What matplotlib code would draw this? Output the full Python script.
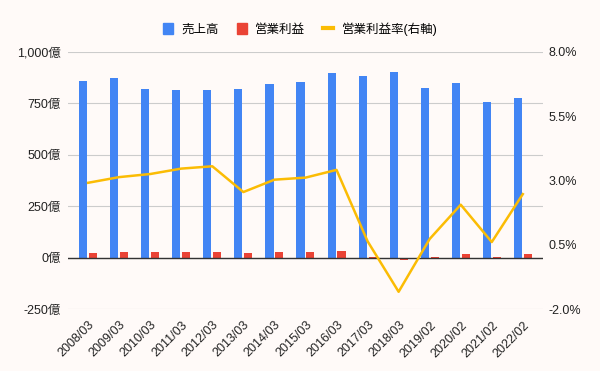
import matplotlib.pyplot as plt
import numpy as np
from matplotlib.patches import Patch
from matplotlib.lines import Line2D

plt.rcParams['font.family'] = ['Liberation Sans', 'Noto Sans CJK JP', 'DejaVu Sans']

# data
periods = ['2008/03', '2009/03', '2010/03', '2011/03', '2012/03', '2013/03', '2014/03',
           '2015/03', '2016/03', '2017/03', '2018/03', '2019/02', '2020/02', '2021/02', '2022/02']
sales = [858, 871, 819, 814, 814, 819, 845, 852, 897, 884, 901, 824, 848, 756, 776]
op_profit = [25, 27, 26, 28, 29, 21, 26, 26, 31, 6, -12, 6, 17, 5, 19]
op_margin = [2.91, 3.13, 3.25, 3.46, 3.55, 2.55, 3.03, 3.11, 3.41, 0.64, -1.32, 0.73, 2.06, 0.61, 2.47]

left_ticks = [-250, 0, 250, 500, 750, 1000]
right_ticks = [-2.0, 0.5, 3.0, 5.5, 8.0]

bg = '#fffaf8'
blue = '#4285f4'
red = '#ea4335'
yellow = '#fbbc04'

fig = plt.figure(figsize=(6, 3.71), dpi=100, facecolor=bg)
ax = fig.add_axes([0.1133, 0.1663, 0.7917, 0.6946])
ax.set_facecolor(bg)

x = np.arange(len(periods))
w = 0.26
ax.bar(x - 0.16, sales, width=w, color=blue, zorder=3)
ax.bar(x + 0.16, op_profit, width=w, color=red, zorder=3)

ax.set_ylim(-250, 1000)
ax.set_xlim(-0.65, len(periods) - 0.35)
ax.set_yticks(left_ticks)
ax.set_yticklabels([f'{v:,}億' for v in left_ticks])
ax.grid(axis='y', color='#cccccc', linewidth=0.8, zorder=0)
ax.axhline(0, color='#333333', linewidth=1.0, zorder=4)
for s in ax.spines.values():
    s.set_visible(False)
ax.tick_params(axis='both', length=0, labelsize=9, colors='#222222')
ax.set_xticks(x)
ax.set_xticklabels(periods, rotation=45, ha='right', rotation_mode='anchor')
ax.tick_params(axis='x', pad=7)
ax.tick_params(axis='y', pad=5)

ax2 = ax.twinx()
ax2.plot(x, op_margin, color=yellow, linewidth=1.8, zorder=5)
ax2.set_ylim(-2, 8)
ax2.set_yticks(right_ticks)
ax2.set_yticklabels([f'{v:.1f}%' for v in right_ticks])
for s in ax2.spines.values():
    s.set_visible(False)
ax2.tick_params(axis='y', length=0, labelsize=9, colors='#222222', pad=4)

handles = [Patch(color=blue, label='売上高'),
           Patch(color=red, label='営業利益'),
           Line2D([0], [0], color=yellow, linewidth=3, label='営業利益率(右軸)')]
fig.legend(handles=handles, loc='center', bbox_to_anchor=(0.5, 0.922), ncol=3,
           frameon=False, fontsize=9, handlelength=0.8, handleheight=0.9,
           columnspacing=1.4, handletextpad=0.7, prop={'size': 9})

fig.savefig('out.png', dpi=100, facecolor=bg)
